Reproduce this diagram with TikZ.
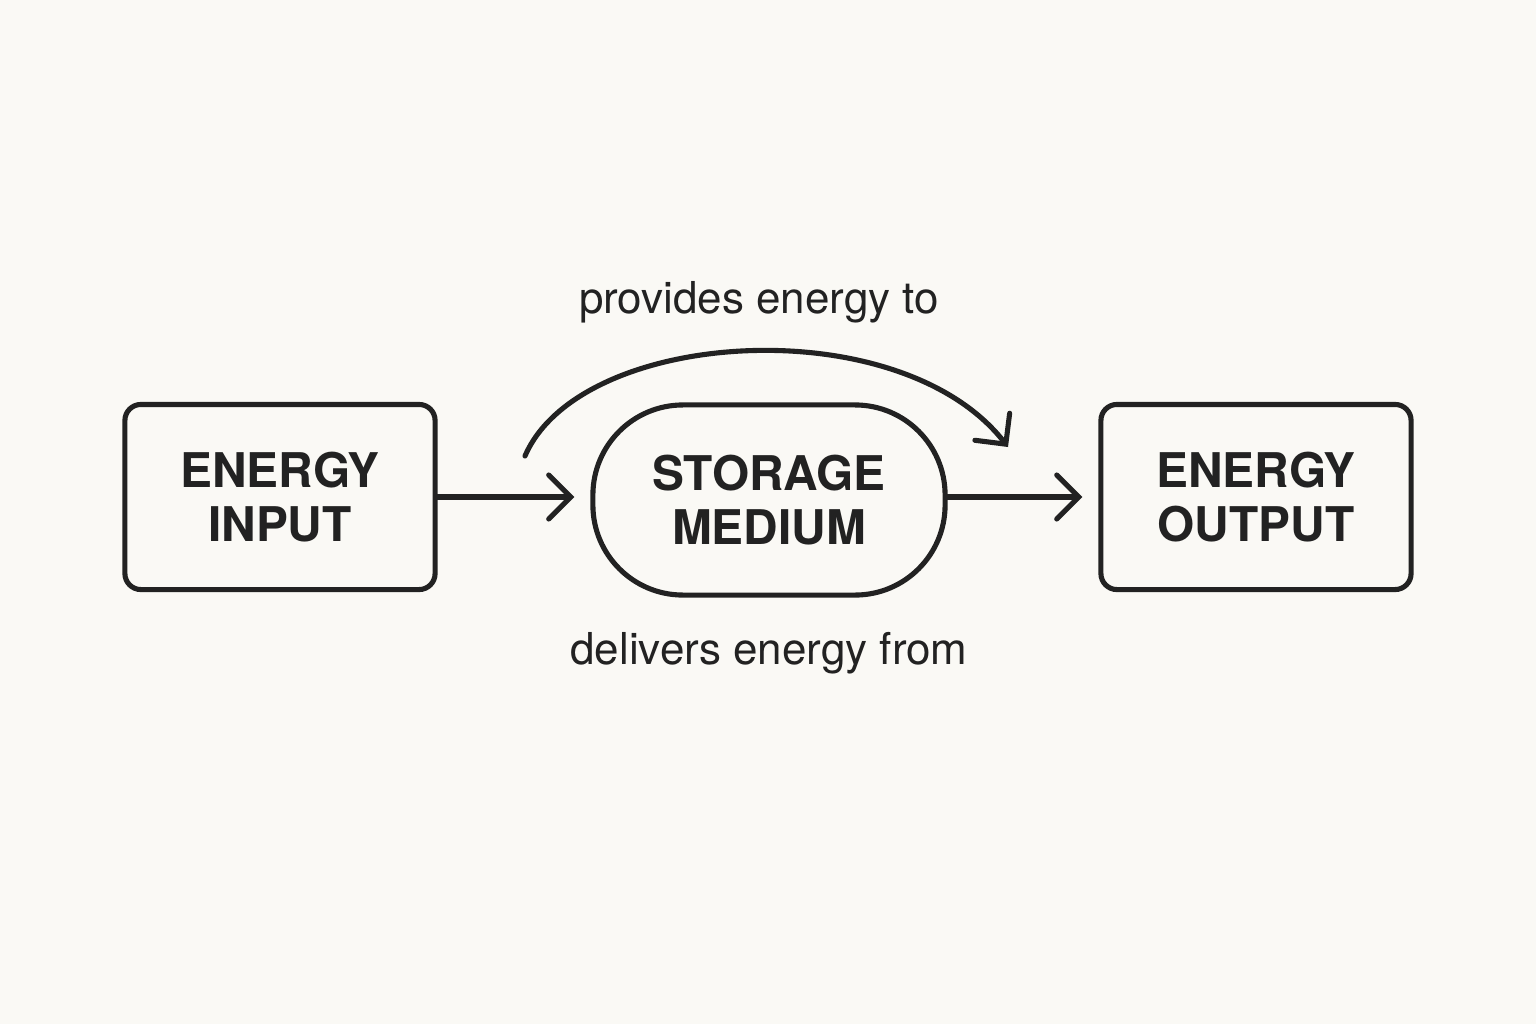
\documentclass[tikz,border=0pt]{standalone}
\usepackage{fontspec}
\setmainfont{TeX Gyre Heros}
\usetikzlibrary{arrows.meta,positioning}
\definecolor{paper}{HTML}{FAF9F5}
\definecolor{ink}{HTML}{222222}
\begin{document}
\begin{tikzpicture}[
    x=0.01cm,y=-0.01cm,
    line width=1.45pt, ink,
    block/.style={draw,rounded corners=0.16cm,minimum width=3.1cm,
        minimum height=1.85cm,font={\fontsize{13.6}{15.6}\selectfont\bfseries},
        align=center,text=ink},
    medium/.style={draw,rounded corners=0.9cm,minimum width=3.52cm,
        minimum height=1.9cm,font={\fontsize{13.6}{15.6}\selectfont\bfseries},
        align=center,text=ink},
    label/.style={font={\fontsize{12.5}{15}\selectfont},text=ink},
    flow/.style={-{Straight Barb[length=2.2mm,width=4.4mm,line cap=round]},
        line cap=round},
    ]
    % Background
    \fill[paper] (0,0) rectangle (1536,1024);

    % Blocks
    \node[block] (input) at (280,497) {ENERGY\\INPUT};
    \node[medium] (storage) at (769,500) {STORAGE\\MEDIUM};
    \node[block] (output) at (1256,497) {ENERGY\\OUTPUT};

    % Straight arrows
    \draw[flow] (input.east) -- ([xshift=-0.16cm]storage.west |- input.east);
    \draw[flow] (storage.east |- output.west) -- ([xshift=-0.16cm]output.west);

    % Curved arrow over the medium
    \coordinate (from) at (525,456);
    \coordinate (to) at (1008,447);
    \draw[flow] (from) .. controls (580,328) and (900,308) .. (to);

    % Labels
    \node[label] (provides) at (759,302) {provides energy to};
    \node[label] (delivers) at (769,653) {delivers energy from};
\end{tikzpicture}
\end{document}
